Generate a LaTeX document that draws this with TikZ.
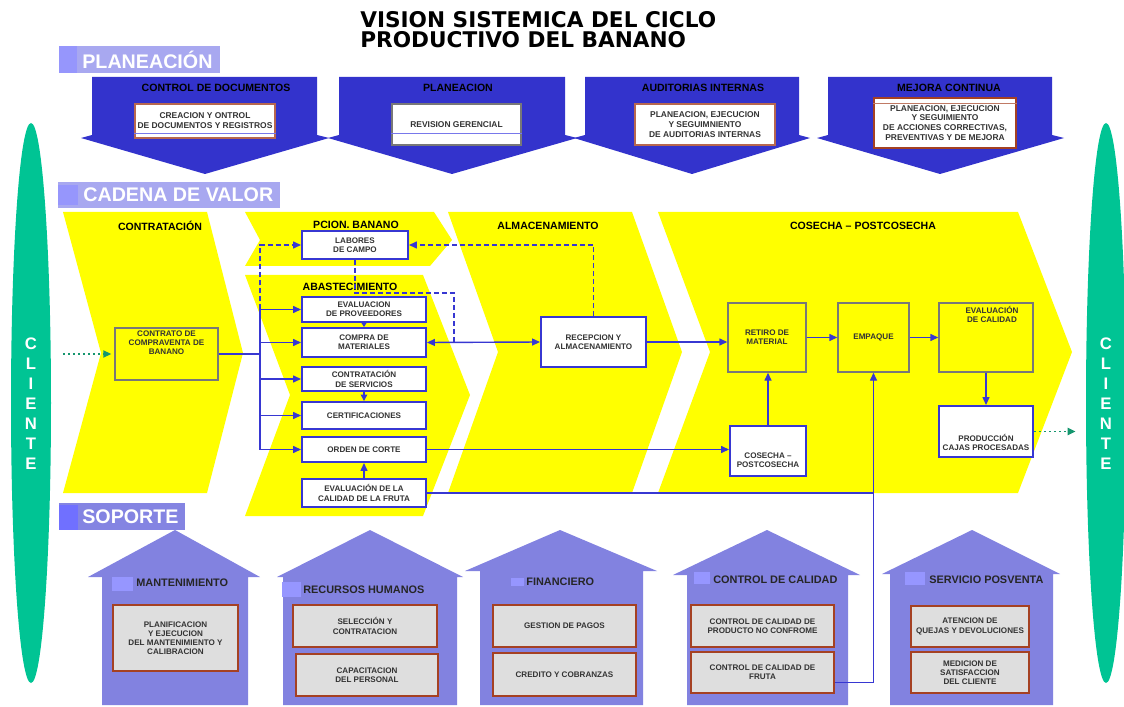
\documentclass[tikz,border=0pt]{standalone}
\usepackage{fontspec}
\setmainfont{Liberation Sans}
\newfontfamily\titlefont{DejaVu Sans}
\usetikzlibrary{positioning,arrows.meta,shapes.geometric}

\definecolor{planblue}{RGB}{51,51,204}
\definecolor{connblue}{RGB}{55,55,210}
\definecolor{laneyellow}{RGB}{255,255,0}
\definecolor{tagfill}{RGB}{168,168,240}
\definecolor{tagsq}{RGB}{150,150,252}
\definecolor{soptag}{RGB}{132,132,226}
\definecolor{sopsq}{RGB}{112,112,255}
\definecolor{housefill}{RGB}{130,130,224}
\definecolor{houseicon}{RGB}{150,150,255}
\definecolor{clientgreen}{RGB}{0,196,148}
\definecolor{dotgreen}{RGB}{20,150,110}
\definecolor{brickred}{RGB}{165,65,35}
\definecolor{boxgrey}{RGB}{222,222,222}
\definecolor{edgegrey}{RGB}{120,120,120}
\definecolor{sepblue}{RGB}{120,120,235}

\tikzset{
  sz/.style 2 args={minimum width=#1*0.2mm, minimum height=#2*0.2mm},
  boxtext/.style={font=\bfseries\fontsize{4.6}{5.2}\selectfont, align=center, text=black!80, inner sep=0pt},
  flowbox/.style={draw=connblue, line width=1.1pt, fill=white, boxtext},
  stagebox/.style={draw=edgegrey, line width=0.8pt, fill=laneyellow, boxtext},
  planbox/.style={draw=brickred!80, line width=0.6pt, fill=white, inner sep=0pt, align=center, text=black!80,
    font=\bfseries\fontsize{4.8}{5.6}\selectfont},
  housebox/.style={draw=brickred, line width=0.9pt, fill=boxgrey, boxtext},
  lanetitle/.style={font=\bfseries\fontsize{6}{7}\selectfont, inner sep=0pt},
  housetitle/.style={font=\bfseries\fontsize{6.2}{7}\selectfont, inner sep=0pt, anchor=west, text=black!85},
  tagbox/.style={inner sep=0pt, anchor=north west},
  tagtext/.style={text=white, font=\bfseries\fontsize{11.2}{12}\selectfont, inner sep=0pt, anchor=west},
  cliente/.style={ellipse, fill=clientgreen, inner sep=0pt, sz={40}{560}},
  clitext/.style={text=white, font=\bfseries\fontsize{9.5}{11.4}\selectfont, align=center, inner sep=0pt},
  link/.style={draw=connblue, line width=0.8pt},
  flow/.style={link, ->},
  dlink/.style={link, dash pattern=on 1mm off 0.6mm},
  feed/.style={draw=dotgreen, line width=1.1pt, dash pattern=on 0.4mm off 0.6mm, ->},
  sepline/.style={draw=sepblue, line width=0.6pt}
}

\begin{document}
\begin{tikzpicture}[x=0.2mm, y=-0.2mm, >={Triangle[length=1.6mm,width=1.4mm]}]
\useasboundingbox (0,0) rectangle (1124,707);

\node[anchor=north west, align=left, inner sep=0pt, font=\titlefont\bfseries\fontsize{12.3}{11.6}\selectfont] (title) at (360,11)
  {VISION SISTEMICA DEL CICLO\\PRODUCTIVO DEL BANANO};

% planeacion
\node[tagbox, fill=tagfill, sz={161}{27}] (plantag) at (59,46) {};
\fill[tagsq] (59,46) rectangle (77,73);
\node[tagtext] (plantxt) at (82,60) {PLANEACIÓN};

\fill[planblue] (92,77) -- (317,77) -- (317,135) -- (329,138) -- (205,174) -- (81,138) -- (92,135) -- cycle;
\fill[planblue] (339,77) -- (565,77) -- (565,135) -- (577,138) -- (452,174) -- (328,138) -- (339,135) -- cycle;
\fill[planblue] (585,77) -- (799,77) -- (799,135) -- (810,138) -- (692,174) -- (574,138) -- (585,135) -- cycle;
\fill[planblue] (828,77) -- (1052,77) -- (1052,135) -- (1064,138) -- (940,174) -- (817,138) -- (828,135) -- cycle;

\node[lanetitle] (doc) at (216,88) {CONTROL DE DOCUMENTOS};
\node[lanetitle] (plan) at (458,88) {PLANEACION};
\node[lanetitle] (aud) at (703,88) {AUDITORIAS INTERNAS};
\node[lanetitle] (mej) at (949,88) {MEJORA CONTINUA};

\node[planbox, sz={140}{34}] (pb1) at (205,121) {CREACION Y ONTROL\\DE DOCUMENTOS Y REGISTROS};
\node[planbox, sz={129}{41}, draw=edgegrey] (pb2) at (456.5,124.5) {REVISION GERENCIAL};
\node[planbox, sz={140}{41}] (pb3) at (705,124.5) {PLANEACION, EJECUCION\\Y SEGUIMNIENTO\\DE AUDITORIAS INTERNAS};
\node[planbox, sz={142}{50}, draw=brickred] (pb4) at (945,123) {PLANEACION, EJECUCION\\Y SEGUIMIENTO\\DE ACCIONES CORRECTIVAS,\\PREVENTIVAS Y DE MEJORA};
\draw[sepline] ([yshift=1mm]pb1.south west) -- ([yshift=1mm]pb1.south east);
\draw[sepline] ([yshift=2.4mm]pb2.south west) -- ([yshift=2.4mm]pb2.south east);
\draw[brickred!70, line width=0.5pt] ([yshift=-1.2mm]pb4.north west) -- ([yshift=-1.2mm]pb4.north east);

% cadena de valor
\node[tagbox, fill=tagfill, sz={222}{26}] (cadtag) at (58,182) {};
\fill[tagsq] (58,185) rectangle (78,205);
\node[tagtext] (cadtxt) at (83,195) {CADENA DE VALOR};

\fill[laneyellow] (63,212) -- (207,212) -- (243,353) -- (207,493) -- (63,493) -- (101,353) -- cycle;
\fill[laneyellow] (245,212) -- (434,212) -- (452,240) -- (430,266) -- (245,266) -- (260,240) -- cycle;
\fill[laneyellow] (245,275) -- (423,275) -- (470,395) -- (423,516) -- (245,516) -- (290,395) -- cycle;
\fill[laneyellow] (448,212) -- (632,212) -- (682,352) -- (632,493) -- (448,493) -- (498,352) -- cycle;
\fill[laneyellow] (658,212) -- (1018,212) -- (1072,352) -- (1018,493) -- (658,493) -- (710,352) -- cycle;

\node[lanetitle] (contr) at (160,226) {CONTRATACIÓN};
\node[lanetitle] (pcion) at (356,225) {PCION. BANANO};
\node[lanetitle] (abast) at (350,287) {ABASTECIMIENTO};
\node[lanetitle] (almac) at (548,226) {ALMACENAMIENTO};
\node[lanetitle] (cosec) at (863,226) {COSECHA – POSTCOSECHA};

\node[cliente] (cliL) at (31,403) {};
\node[clitext] (cliLt) at (31,404) {C\\L\\I\\E\\N\\T\\E};
\node[cliente] (cliR) at (1106,403) {};
\node[clitext] (cliRt) at (1106,404) {C\\L\\I\\E\\N\\T\\E};

\node[stagebox, sz={103}{52}] (ctr) at (166.5,354) {};
\node[boxtext, below=0.6mm of ctr.north] (ctrt) {CONTRATO DE\\COMPRAVENTA DE\\BANANO};

\node[flowbox, sz={106}{28}] (lab) at (355,245) {LABORES\\DE CAMPO};
\node[flowbox, sz={124}{25}] (evp) at (364,309.5) {EVALUACION\\DE PROVEEDORES};
\node[flowbox, sz={124}{29}] (cmp) at (364,342.5) {COMPRA DE\\MATERIALES};
\node[flowbox, sz={124}{24}] (cts) at (364,379) {CONTRATACIÓN\\DE SERVICIOS};
\node[flowbox, sz={124}{27}] (cer) at (364,415.5) {CERTIFICACIONES};
\node[flowbox, sz={124}{25}] (ord) at (364,449.5) {ORDEN DE CORTE};
\node[flowbox, sz={124}{28}] (evf) at (364,493) {EVALUACIÓN DE LA\\CALIDAD DE LA FRUTA};
\node[flowbox, sz={105}{50}] (rec) at (593.5,342) {RECEPCION Y\\ALMACENAMIENTO};
\node[stagebox, sz={78}{69}] (ret) at (767,337.5) {RETIRO DE\\MATERIAL};
\node[stagebox, sz={71}{69}] (emp) at (873.5,337.5) {EMPAQUE};
\node[stagebox, sz={94}{69}] (evc) at (986,337.5) {};
\node[boxtext, below=0.8mm of evc.north, xshift=1.2mm] (evct) {EVALUACIÓN\\DE CALIDAD};
\node[flowbox, sz={76}{50}] (cos) at (768,451) {};
\node[boxtext, above=1.8mm of cos.south] (cost) {COSECHA –\\POSTCOSECHA};
\node[flowbox, sz={94}{51}] (prd) at (986,431.5) {};
\node[boxtext, above=1.4mm of prd.south] (prdt) {PRODUCCIÓN\\CAJAS PROCESADAS};

% soporte
\node[tagbox, fill=soptag, sz={126}{27}] (soptag) at (59,503) {};
\fill[sopsq] (59,505) rectangle (78,530);
\node[tagtext] (soptxt) at (82,517) {SOPORTE};

\fill[housefill] (102,705) -- (102,577) -- (88,577) -- (175,530) -- (260,577) -- (248,577) -- (248,705) -- cycle;
\fill[housefill] (283,705) -- (283,577) -- (277,577) -- (370,530) -- (463,577) -- (457,577) -- (457,705) -- cycle;
\fill[housefill] (480,705) -- (480,571) -- (465,571) -- (560,530) -- (657,571) -- (643,571) -- (643,705) -- cycle;
\fill[housefill] (687,705) -- (687,575) -- (673,575) -- (767,530) -- (860,575) -- (848,575) -- (848,705) -- cycle;
\fill[housefill] (890,705) -- (890,574) -- (882,574) -- (972,530) -- (1060,574) -- (1053,574) -- (1053,705) -- cycle;

\fill[houseicon] (112,577) rectangle (133,591);
\fill[houseicon] (282,582) rectangle (301,597);
\fill[houseicon] (511,578) rectangle (524,586);
\fill[houseicon] (694,572) rectangle (710,584);
\fill[houseicon] (905,572) rectangle (925,585);
\node[housetitle] (mant) at (136,583) {MANTENIMIENTO};
\node[housetitle] (rrhh) at (303,590) {RECURSOS HUMANOS};
\node[housetitle] (fin) at (526,582) {FINANCIERO};
\node[housetitle] (ccal) at (713,580) {CONTROL DE CALIDAD};
\node[housetitle] (posv) at (929,580) {SERVICIO POSVENTA};

\node[housebox, sz={125}{66}] (mnt) at (175.5,638) {PLANIFICACION\\Y EJECUCION\\DEL MANTENIMIENTO Y\\CALIBRACION};
\node[housebox, sz={144}{42}] (sel) at (365,626) {SELECCIÓN Y\\CONTRATACION};
\node[housebox, sz={142}{42}] (cap) at (367,675) {CAPACITACION\\DEL PERSONAL};
\node[housebox, sz={143}{42}] (pag) at (564.5,626) {GESTION DE PAGOS};
\node[housebox, sz={143}{43}] (cre) at (564.5,674.5) {CREDITO Y COBRANZAS};
\node[housebox, sz={143}{42}] (cpn) at (762.5,626) {CONTROL DE CALIDAD DE\\PRODUCTO NO CONFROME};
\node[housebox, sz={143}{41}] (cdf) at (762.5,672.5) {CONTROL DE CALIDAD DE\\FRUTA};
\node[housebox, sz={118}{41}] (que) at (970,626.5) {ATENCION DE\\QUEJAS Y DEVOLUCIONES};
\node[housebox, sz={118}{41}] (sat) at (970,672.5) {MEDICION DE\\SATISFACCION\\DEL CLIENTE};

% conectores
\coordinate (bt) at (260,309.5);
\coordinate (bb) at (260,449.5);
\coordinate (dk) at (454,293);
\draw[feed, shorten >=0.6mm] ([xshift=2.4mm]cliL.east |- ctr.west) -- (ctr.west);
\draw[link] (ctr.east) -- (ctr.east -| bt);
\draw[link] (bt) -- (bb);
\draw[flow] (bt) -- (evp.west);
\draw[flow] (bt |- cmp.west) -- (cmp.west);
\draw[flow] (bt |- cts.west) -- (cts.west);
\draw[flow] (bt |- cer.west) -- (cer.west);
\draw[flow] (bb) -- (ord.west);
\draw[dlink, ->] (bt) |- (lab.west);
\draw[link, -{Triangle[length=1.1mm,width=1.3mm]}] (evp.south) -- (cmp.north);
\draw[link, -{Triangle[length=1.3mm,width=1.3mm]}] (cts.south) -- (cer.north);
\draw[flow] (evf.north) -- (ord.south);
\draw[dlink] (lab.south) |- (dk) -- (dk |- cmp.east);
\draw[link, <->] (cmp.east) -- (rec.west);
\draw[dlink, ->] (rec.north) |- (lab.east);
\draw[flow] (rec.east) -- (rec.east -| ret.west);
\draw[flow] (ret.east) -- (emp.west);
\draw[flow] (emp.east) -- (evc.west);
\draw[flow] (evc.south) -- (prd.north);
\draw[flow] (ord.east) -- (ord.east -| cos.west);
\draw[flow] (cos.north) -- (cos.north |- ret.south);
\draw[link] (evf.east) -- (evf.east -| emp.south);
\draw[flow] ([yshift=-2mm]cdf.east) -| (emp.south);
\draw[feed] (prd.east) -- ([xshift=-2mm]cliR.west |- prd.east);
\end{tikzpicture}
\end{document}
